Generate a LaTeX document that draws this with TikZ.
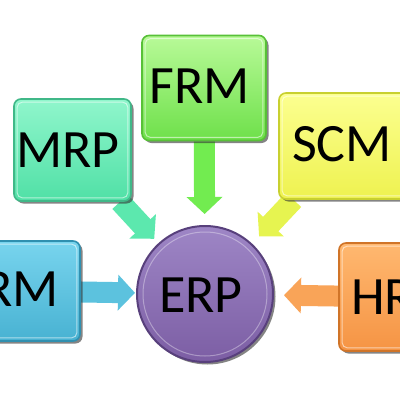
\documentclass[tikz,border=0pt]{standalone}
\usepackage{fontspec}
\setmainfont{Carlito}
\usetikzlibrary{shadows,arrows.meta}
\pgfdeclarelayer{back}
\pgfdeclarelayer{bg}
\pgfsetlayers{back,bg,main}
\definecolor{frmT}{HTML}{B8FA98}\definecolor{frmB}{HTML}{6EE04A}\definecolor{frmD}{HTML}{58C038}\definecolor{frmA}{HTML}{72EC50}
\definecolor{mrpT}{HTML}{90F6CC}\definecolor{mrpB}{HTML}{50E0A6}\definecolor{mrpD}{HTML}{40B888}\definecolor{mrpA}{HTML}{5CE8AE}
\definecolor{scmT}{HTML}{FCFF90}\definecolor{scmB}{HTML}{EEF250}\definecolor{scmD}{HTML}{C8D030}\definecolor{scmA}{HTML}{E6F450}
\definecolor{crmT}{HTML}{78D4EE}\definecolor{crmB}{HTML}{48B2D2}\definecolor{crmD}{HTML}{3090B0}\definecolor{crmA}{HTML}{5CC2DE}
\definecolor{hrT}{HTML}{FFB870}\definecolor{hrB}{HTML}{F59444}\definecolor{hrD}{HTML}{D07428}\definecolor{hrA}{HTML}{F9A458}
\definecolor{erpT}{HTML}{9E86C6}\definecolor{erpB}{HTML}{7C5EA4}\definecolor{erpD}{HTML}{58407C}
\begin{document}
\begin{tikzpicture}[x=1pt,y=-1pt,
  box/.style={rectangle, rounded corners=7pt, line width=1.6pt, inner sep=0pt,
    drop shadow={shadow xshift=2.5pt, shadow yshift=-2.5pt, opacity=0.6, fill=black!80}},
  lbl/.style={font=\fontsize{54}{54}\selectfont, text=black, inner sep=0pt},
  conn/.style={line width=21pt, -{Triangle[width=35pt,length=17pt]}},
  hilite/.style={draw=white, opacity=0.55, line width=1pt, rounded corners=5pt}]
\useasboundingbox (0,0) rectangle (400,400);
\begin{pgfonlayer}{back}
\fill[white] (0,0) rectangle (400,400);
\end{pgfonlayer}
\begin{scope}
\clip (0,0) rectangle (400,400);
% ERP circle
\node[circle, minimum size=136pt, inner sep=0pt, line width=2pt, draw=erpD,
  top color=erpT, bottom color=erpB,
  drop shadow={shadow xshift=2.5pt, shadow yshift=-2.5pt, opacity=0.6, fill=black!80}] (erp) at (205,294) {};
\draw[white, opacity=0.35, line width=1pt] (erp) circle (62pt);
% boxes
\node[box, minimum width=124pt, minimum height=105pt, draw=frmD, top color=frmT, bottom color=frmB] (frm) at (204,88) {};
\node[box, minimum width=117pt, minimum height=102pt, draw=mrpD, top color=mrpT, bottom color=mrpB] (mrp) at (72.5,150) {};
\node[box, minimum width=130pt, minimum height=106pt, draw=scmD, top color=scmT, bottom color=scmB] (scm) at (344,146) {};
\node[box, minimum width=120pt, minimum height=100pt, draw=crmD, top color=crmT, bottom color=crmB] (crm) at (20,291) {};
\node[box, minimum width=120pt, minimum height=108pt, draw=hrD, top color=hrT, bottom color=hrB] (hr) at (399,297) {};
\foreach \b in {frm,mrp,scm,crm,hr}{
  \draw[hilite] ([shift={(4,4)}]\b.north west) rectangle ([shift={(-4,-4)}]\b.south east);
}
% labels
\node[lbl] (frmt) at (200,86) {FRM};
\node[lbl] (mrpt) at (68,150) {MRP};
\node[lbl] (scmt) at (342,144) {SCM};
\node[lbl] (erpt) at (201,295) {ERP};
\node[lbl, anchor=east] (crmt) at (59,289) {CRM};
\node[lbl, anchor=west] (hrt) at (351,297) {HRM};
\end{scope}
% connectors
\begin{pgfonlayer}{bg}
\draw[conn, frmA, shorten >=11pt] (frm) -- (erp);
\draw[conn, mrpA, shorten >=6pt] (mrp) -- (erp);
\draw[conn, scmA, shorten >=10pt] (scm) -- (erp);
\draw[conn, crmA, shorten >=1pt] (crm) -- (erp);
\draw[conn, hrA, shorten >=10pt] (hr) -- (erp);
\end{pgfonlayer}
\end{tikzpicture}
\end{document}
